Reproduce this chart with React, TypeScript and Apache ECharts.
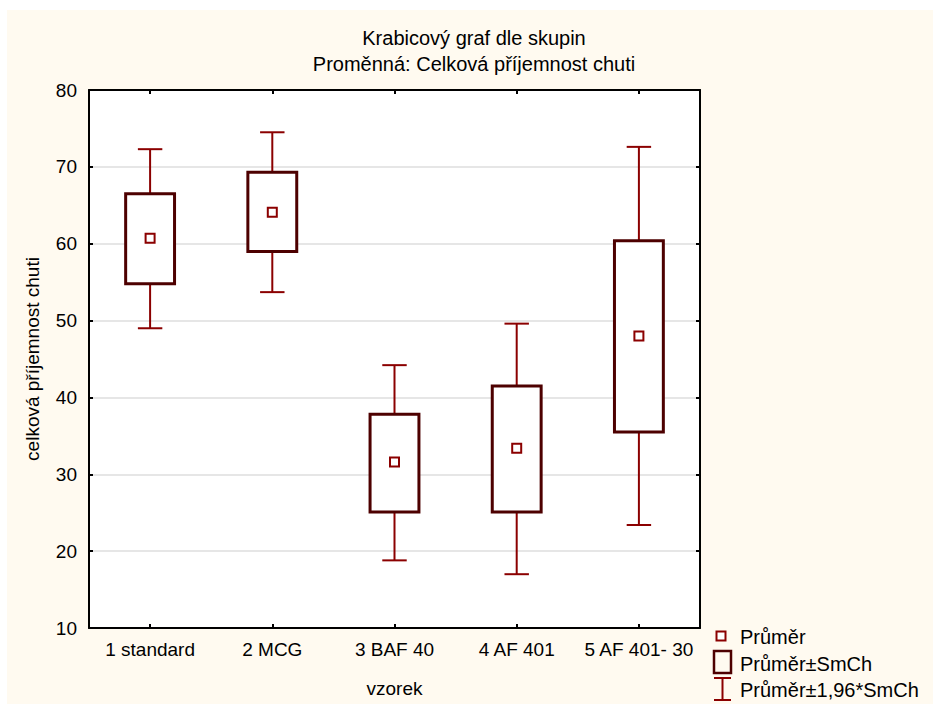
import React, { useEffect, useRef } from "react";
import * as echarts from "echarts";

const categories = ["1 standard", "2 MCG", "3 BAF 40", "4 AF 401", "5 AF 401- 30"];
const whiskerLow = [49.0, 53.7, 18.8, 17.0, 23.4];
const boxLow = [54.8, 59.0, 25.1, 25.1, 35.5];
const means = [60.7, 64.1, 31.6, 33.4, 48.0];
const boxHigh = [66.5, 69.3, 37.8, 41.5, 60.4];
const whiskerHigh = [72.3, 74.5, 44.2, 49.6, 72.6];

const yTicks = { min: 10, max: 80, interval: 10 };

const titleLine1 = "Krabicový graf dle skupin";
const titleLine2 = "Proměnná: Celková příjemnost chuti";
const xName = "vzorek";
const yName = "celková příjemnost chuti";
const legendLabels = ["Průměr", "Průměr±SmCh", "Průměr±1,96*SmCh"];

const FONT = "'Liberation Sans', Arial, sans-serif";
const WHISKER = "#8b0000";
const BOX = "#4d0000";
const BG = "#fffaf0";

export default function App() {
  const ref = useRef<HTMLDivElement>(null);

  useEffect(() => {
    if (!ref.current) return;
    const chart = echarts.init(ref.current, null, { renderer: "svg" });
    const data = categories.map((_, i) => [
      i,
      whiskerLow[i],
      boxLow[i],
      means[i],
      boxHigh[i],
      whiskerHigh[i],
    ]);

    const axisLine = { show: true, lineStyle: { color: "#000", width: 2 } };
    const tick = { show: true, inside: true, length: 4, lineStyle: { color: "#000", width: 2 } };

    const option: any = {
      animation: false,
      backgroundColor: BG,
      grid: {
        left: 82,
        top: 80,
        right: 233,
        bottom: 76,
        show: true,
        backgroundColor: "#ffffff",
        borderWidth: 0,
      },
      xAxis: [
        {
          type: "category",
          data: categories,
          position: "bottom",
          axisLine,
          axisTick: { ...tick, alignWithLabel: true, interval: 0 },
          axisLabel: { color: "#000", fontSize: 19, fontFamily: FONT, margin: 12, interval: 0 },
          name: xName,
          nameLocation: "middle",
          nameGap: 51,
          nameTextStyle: { color: "#000", fontSize: 19, fontFamily: FONT },
          splitLine: { show: false },
        },
        {
          type: "category",
          data: categories,
          position: "top",
          axisLine,
          axisTick: { ...tick, alignWithLabel: true, interval: 0 },
          axisLabel: { show: false, interval: 0 },
          splitLine: { show: false },
        },
      ],
      yAxis: [
        {
          type: "value",
          min: yTicks.min,
          max: yTicks.max,
          interval: yTicks.interval,
          position: "left",
          axisLine,
          axisTick: tick,
          axisLabel: { color: "#000", fontSize: 19, fontFamily: FONT, margin: 12 },
          splitLine: { show: true, lineStyle: { color: "#e6e6e6", width: 2 } },
          name: yName,
          nameLocation: "middle",
          nameGap: 47,
          nameTextStyle: { color: "#000", fontSize: 19, fontFamily: FONT },
        },
        {
          type: "value",
          min: yTicks.min,
          max: yTicks.max,
          interval: yTicks.interval,
          position: "right",
          axisLine,
          axisTick: tick,
          axisLabel: { show: false },
          splitLine: { show: false },
        },
      ],
      series: [
        {
          type: "custom",
          xAxisIndex: 0,
          yAxisIndex: 0,
          encode: { x: 0, y: [1, 2, 3, 4, 5] },
          data,
          renderItem: (params: any, api: any) => {
            const x = api.value(0);
            const pWL = api.coord([x, api.value(1)]);
            const pBL = api.coord([x, api.value(2)]);
            const pM = api.coord([x, api.value(3)]);
            const pBH = api.coord([x, api.value(4)]);
            const pWH = api.coord([x, api.value(5)]);
            const band = api.size([1, 0])[0];
            const bw = band * 0.4;
            const cw = band * 0.2;
            const cx = pM[0];
            const ws = { stroke: WHISKER, lineWidth: 2 };
            return {
              type: "group",
              children: [
                { type: "line", shape: { x1: cx, y1: pWH[1], x2: cx, y2: pBH[1] }, style: ws },
                { type: "line", shape: { x1: cx, y1: pBL[1], x2: cx, y2: pWL[1] }, style: ws },
                { type: "line", shape: { x1: cx - cw / 2, y1: pWH[1], x2: cx + cw / 2, y2: pWH[1] }, style: ws },
                { type: "line", shape: { x1: cx - cw / 2, y1: pWL[1], x2: cx + cw / 2, y2: pWL[1] }, style: ws },
                {
                  type: "rect",
                  shape: { x: cx - bw / 2, y: pBH[1], width: bw, height: pBL[1] - pBH[1] },
                  style: { fill: "#ffffff", stroke: BOX, lineWidth: 3 },
                },
                {
                  type: "rect",
                  shape: { x: cx - 4.5, y: pM[1] - 4.5, width: 9, height: 9 },
                  style: { fill: "#ffffff", stroke: WHISKER, lineWidth: 2 },
                },
              ],
            };
          },
        },
      ],
      graphic: [
        {
          type: "text",
          style: {
            text: titleLine1,
            x: 467,
            y: 28,
            textAlign: "center",
            textVerticalAlign: "middle",
            fontSize: 20,
            fontFamily: FONT,
            fill: "#000",
          },
        },
        {
          type: "text",
          style: {
            text: titleLine2,
            x: 467,
            y: 54,
            textAlign: "center",
            textVerticalAlign: "middle",
            fontSize: 20,
            fontFamily: FONT,
            fill: "#000",
          },
        },
        {
          type: "rect",
          shape: { x: 709.5, y: 621.5, width: 9, height: 9 },
          style: { fill: "#ffffff", stroke: WHISKER, lineWidth: 2 },
        },
        {
          type: "text",
          style: { text: legendLabels[0], x: 733, y: 627, textVerticalAlign: "middle", fontSize: 20, fontFamily: FONT, fill: "#000" },
        },
        {
          type: "rect",
          shape: { x: 707, y: 641, width: 17, height: 22 },
          style: { fill: "none", stroke: BOX, lineWidth: 2.5 },
        },
        {
          type: "text",
          style: { text: legendLabels[1], x: 733, y: 654, textVerticalAlign: "middle", fontSize: 20, fontFamily: FONT, fill: "#000" },
        },
        { type: "line", shape: { x1: 715.5, y1: 668, x2: 715.5, y2: 690 }, style: { stroke: WHISKER, lineWidth: 2 } },
        { type: "line", shape: { x1: 707, y1: 668, x2: 724, y2: 668 }, style: { stroke: WHISKER, lineWidth: 2 } },
        { type: "line", shape: { x1: 707, y1: 690, x2: 724, y2: 690 }, style: { stroke: WHISKER, lineWidth: 2 } },
        {
          type: "text",
          style: { text: legendLabels[2], x: 733, y: 680, textVerticalAlign: "middle", fontSize: 20, fontFamily: FONT, fill: "#000" },
        },
      ],
    };

    chart.setOption(option);
    return () => chart.dispose();
  }, []);

  return (
    <div
      ref={ref}
      style={{ position: "absolute", left: 7, top: 10, width: 926, height: 694 }}
    />
  );
}
